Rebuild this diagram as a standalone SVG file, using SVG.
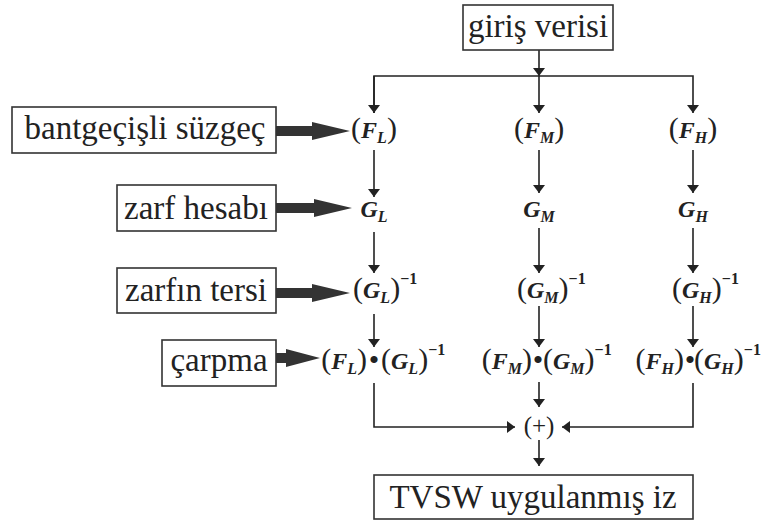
<svg xmlns="http://www.w3.org/2000/svg" width="765" height="520" viewBox="0 0 765 520">
<defs>
<style>
.box{fill:#fff;stroke:#333;stroke-width:1.6}
.lbl{font-family:"Liberation Serif",serif;font-size:33px;fill:#222;text-anchor:middle}
.m{font-family:"Liberation Serif",serif;fill:#222;font-style:italic;font-weight:bold;font-size:24px}
.p{font-style:normal;font-weight:normal;font-size:30px}
.s{font-size:16px}
.sup{font-style:normal;font-size:16px}
.dot{font-family:"Liberation Serif",serif;fill:#222;font-size:30px;text-anchor:middle}
.ln{fill:none;stroke:#222;stroke-width:1.6}
.thick{fill:#333}
</style>
<marker id="ah" viewBox="0 0 10 10" refX="10" refY="5" markerWidth="8" markerHeight="12" markerUnits="userSpaceOnUse" orient="auto" preserveAspectRatio="none">
<path d="M0,0 L10,5 L0,10 Z" fill="#222"/>
</marker>
</defs>
<rect width="765" height="520" fill="#fff"/>

<g id="connectors">
<path class="ln" d="M539,50 V76" marker-end="url(#ah)"/>
<path class="ln" d="M374,113 V76 H693 V113" marker-end="url(#ah)"/>
<path class="ln" d="M374,76 V113" marker-end="url(#ah)"/>
<path class="ln" d="M539,76 V113" marker-end="url(#ah)"/>
<path class="ln" d="M374,150 V197" marker-end="url(#ah)"/>
<path class="ln" d="M374,232 V273" marker-end="url(#ah)"/>
<path class="ln" d="M374,314 V347" marker-end="url(#ah)"/>
<path class="ln" d="M374,383 V427 H515" marker-end="url(#ah)"/>
<path class="ln" d="M539,150 V193" marker-end="url(#ah)"/>
<path class="ln" d="M539,228 V273" marker-end="url(#ah)"/>
<path class="ln" d="M539,306 V347" marker-end="url(#ah)"/>
<path class="ln" d="M539,382 V407" marker-end="url(#ah)"/>
<path class="ln" d="M693,150 V193" marker-end="url(#ah)"/>
<path class="ln" d="M693,228 V273" marker-end="url(#ah)"/>
<path class="ln" d="M693,306 V347" marker-end="url(#ah)"/>
<path class="ln" d="M693,383 V427 H562" marker-end="url(#ah)"/>
<path class="ln" d="M539,440 V466" marker-end="url(#ah)"/>
<polygon class="thick" points="276,126 312,126 312,122 350,131 312,140 312,136 276,136"/>
<polygon class="thick" points="276,203 314,203 314,199 352,208 314,217 314,213 276,213"/>
<polygon class="thick" points="276,288 312,288 312,284 350,293 312,302 312,298 276,298"/>
<polygon class="thick" points="276,353 286,353 286,349 320,358 286,367 286,363 276,363"/>
</g>

<g id="giris">
<rect class="box" x="463" y="5" width="150" height="45"/>
<text class="lbl" x="538" y="37">giriş verisi</text>
</g>
<g id="bantgecisli">
<rect class="box" x="12" y="107" width="264" height="46"/>
<text class="lbl" x="145" y="139">bantgeçişli süzgeç</text>
</g>
<g id="zarf">
<rect class="box" x="117" y="185" width="159" height="46"/>
<text class="lbl" x="196" y="219">zarf hesabı</text>
</g>
<g id="zarfin">
<rect class="box" x="117" y="268" width="159" height="45"/>
<text class="lbl" x="196" y="301">zarfın tersi</text>
</g>
<g id="carpma">
<rect class="box" x="162" y="340" width="114" height="46"/>
<text class="lbl" x="219" y="371">çarpma</text>
</g>
<g id="output">
<rect class="box" x="374" y="475" width="319" height="44"/>
<text class="lbl" x="533" y="508">TVSW uygulanmış iz</text>
</g>

<g id="FL"><text class="m" x="374" y="138" text-anchor="middle"><tspan class="p">(</tspan>F<tspan class="s" dy="5">L</tspan><tspan class="p" dy="-5">)</tspan></text></g>
<g id="FM"><text class="m" x="539" y="138" text-anchor="middle"><tspan class="p">(</tspan>F<tspan class="s" dy="5">M</tspan><tspan class="p" dy="-5">)</tspan></text></g>
<g id="FH"><text class="m" x="693" y="138" text-anchor="middle"><tspan class="p">(</tspan>F<tspan class="s" dy="5">H</tspan><tspan class="p" dy="-5">)</tspan></text></g>

<g id="GL"><text class="m" x="374" y="217" text-anchor="middle">G<tspan class="s" dy="5">L</tspan></text></g>
<g id="GM"><text class="m" x="539" y="217" text-anchor="middle">G<tspan class="s" dy="5">M</tspan></text></g>
<g id="GH"><text class="m" x="693" y="217" text-anchor="middle">G<tspan class="s" dy="5">H</tspan></text></g>

<g id="GLinv"><text class="m" x="353" y="298"><tspan class="p">(</tspan>G<tspan class="s" dy="5">L</tspan><tspan class="p" dy="-5">)</tspan><tspan class="sup" dy="-14">−1</tspan></text></g>
<g id="GMinv"><text class="m" x="517" y="298"><tspan class="p">(</tspan>G<tspan class="s" dy="5">M</tspan><tspan class="p" dy="-5">)</tspan><tspan class="sup" dy="-14">−1</tspan></text></g>
<g id="GHinv"><text class="m" x="672" y="298"><tspan class="p">(</tspan>G<tspan class="s" dy="5">H</tspan><tspan class="p" dy="-5">)</tspan><tspan class="sup" dy="-14">−1</tspan></text></g>

<g id="prodL">
<text class="m" x="367" y="369" text-anchor="end"><tspan class="p">(</tspan>F<tspan class="s" dy="5">L</tspan><tspan class="p" dy="-5">)</tspan></text>
<text class="dot" x="374" y="370">•</text>
<text class="m" x="381" y="369"><tspan class="p">(</tspan>G<tspan class="s" dy="5">L</tspan><tspan class="p" dy="-5">)</tspan><tspan class="sup" dy="-14">−1</tspan></text>
</g>
<g id="prodM">
<text class="m" x="532" y="369" text-anchor="end"><tspan class="p">(</tspan>F<tspan class="s" dy="5">M</tspan><tspan class="p" dy="-5">)</tspan></text>
<text class="dot" x="538" y="370">•</text>
<text class="m" x="543" y="369"><tspan class="p">(</tspan>G<tspan class="s" dy="5">M</tspan><tspan class="p" dy="-5">)</tspan><tspan class="sup" dy="-14">−1</tspan></text>
</g>
<g id="prodH">
<text class="m" x="684" y="369" text-anchor="end"><tspan class="p">(</tspan>F<tspan class="s" dy="5">H</tspan><tspan class="p" dy="-5">)</tspan></text>
<text class="dot" x="690" y="370">•</text>
<text class="m" x="694" y="369"><tspan class="p">(</tspan>G<tspan class="s" dy="5">H</tspan><tspan class="p" dy="-5">)</tspan><tspan class="sup" dy="-14">−1</tspan></text>
</g>

<g id="sum"><text x="539" y="434" text-anchor="middle" style="font-family:'Liberation Serif',serif;font-size:25px;fill:#222">(+)</text></g>
</svg>
